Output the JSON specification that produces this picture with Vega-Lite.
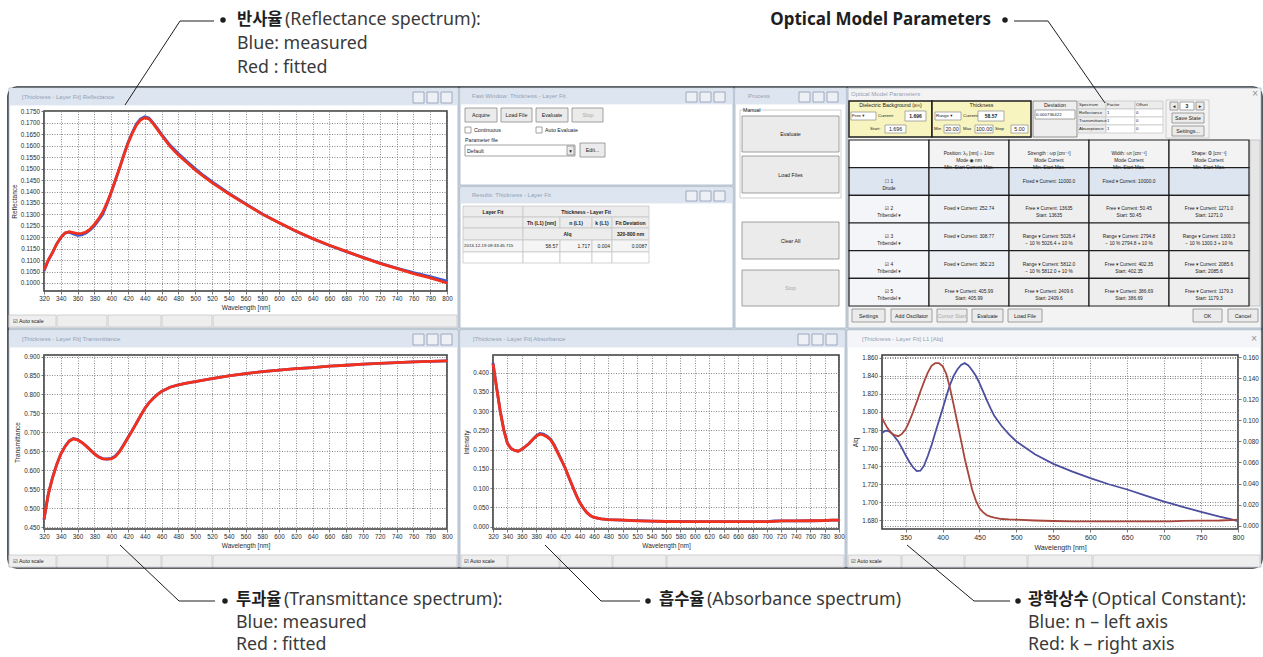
{
"$schema":"https://vega.github.io/schema/vega-lite/v6.json",
"padding":0,
"background":"white",
"spacing":0,
"bounds":"flush",
"align":"each",
"columns":7,
"config":{
 "view":{"stroke":null},
 "font":"Liberation Sans",
 "axis":{"labelFont":"Liberation Sans","labelFontSize":6.3,"labelColor":"#2a2a2a","titleFont":"Liberation Sans","titleFontSize":6.5,"titleFontWeight":"normal","titleColor":"#2a2a2a","grid":true,"gridColor":"#808080","gridDash":[1,1.5],"gridWidth":0.9,"domain":false,"tickColor":"#555555","tickSize":3,"tickWidth":0.8,"labelPadding":1.5,"titlePadding":3,"labelOverlap":false,"labelFlush":false},
 "axisY":{"grid":true,"gridColor":"#7a7a7a","gridDash":[1,1.5],"gridWidth":0.9,"gridOpacity":1}
},
"datasets":{
 "refl":[
  {"wavelength":320,"measured":0.1052,"fitted":0.1056},{"wavelength":325,"measured":0.1098,"fitted":0.1100},{"wavelength":330,"measured":0.1132,"fitted":0.1132},{"wavelength":335,"measured":0.1170,"fitted":0.1170},{"wavelength":340,"measured":0.1198,"fitted":0.1199},{"wavelength":345,"measured":0.1218,"fitted":0.1219},{"wavelength":350,"measured":0.1222,"fitted":0.1224},{"wavelength":355,"measured":0.1215,"fitted":0.1220},{"wavelength":360,"measured":0.1208,"fitted":0.1216},{"wavelength":365,"measured":0.1210,"fitted":0.1217},{"wavelength":370,"measured":0.1218,"fitted":0.1223},{"wavelength":375,"measured":0.1232,"fitted":0.1236},{"wavelength":380,"measured":0.1250,"fitted":0.1256},{"wavelength":385,"measured":0.1275,"fitted":0.1280},{"wavelength":390,"measured":0.1300,"fitted":0.1310},{"wavelength":395,"measured":0.1345,"fitted":0.1350},{"wavelength":400,"measured":0.1395,"fitted":0.1398},{"wavelength":405,"measured":0.1448,"fitted":0.1450},{"wavelength":410,"measured":0.1502,"fitted":0.1503},{"wavelength":415,"measured":0.1560,"fitted":0.1558},{"wavelength":420,"measured":0.1613,"fitted":0.1610},{"wavelength":425,"measured":0.1657,"fitted":0.1653},{"wavelength":430,"measured":0.1695,"fitted":0.1690},{"wavelength":435,"measured":0.1718,"fitted":0.1713},{"wavelength":440,"measured":0.1727,"fitted":0.1722},{"wavelength":445,"measured":0.1722,"fitted":0.1718},{"wavelength":450,"measured":0.1700,"fitted":0.1697},{"wavelength":455,"measured":0.1676,"fitted":0.1672},{"wavelength":460,"measured":0.1650,"fitted":0.1646},{"wavelength":470,"measured":0.1603,"fitted":0.1597},{"wavelength":480,"measured":0.1566,"fitted":0.1560},{"wavelength":490,"measured":0.1532,"fitted":0.1527},{"wavelength":500,"measured":0.1500,"fitted":0.1494},{"wavelength":510,"measured":0.1470,"fitted":0.1466},{"wavelength":520,"measured":0.1443,"fitted":0.1439},{"wavelength":540,"measured":0.1393,"fitted":0.1390},{"wavelength":560,"measured":0.1347,"fitted":0.1345},{"wavelength":580,"measured":0.1302,"fitted":0.1301},{"wavelength":600,"measured":0.1263,"fitted":0.1263},{"wavelength":620,"measured":0.1226,"fitted":0.1227},{"wavelength":640,"measured":0.1194,"fitted":0.1194},{"wavelength":660,"measured":0.1164,"fitted":0.1165},{"wavelength":680,"measured":0.1137,"fitted":0.1138},{"wavelength":700,"measured":0.1112,"fitted":0.1111},{"wavelength":720,"measured":0.1087,"fitted":0.1086},{"wavelength":740,"measured":0.1065,"fitted":0.1064},{"wavelength":760,"measured":0.1045,"fitted":0.1041},{"wavelength":780,"measured":0.1028,"fitted":0.1022},{"wavelength":800,"measured":0.1008,"fitted":0.1000}
 ],
 "trans":[
  {"wavelength":320,"measured":0.4700,"fitted":0.4714},{"wavelength":325,"measured":0.5360,"fitted":0.5360},{"wavelength":330,"measured":0.5800,"fitted":0.5790},{"wavelength":335,"measured":0.6150,"fitted":0.6140},{"wavelength":340,"measured":0.6430,"fitted":0.6430},{"wavelength":345,"measured":0.6630,"fitted":0.6625},{"wavelength":350,"measured":0.6780,"fitted":0.6770},{"wavelength":355,"measured":0.6840,"fitted":0.6830},{"wavelength":360,"measured":0.6810,"fitted":0.6800},{"wavelength":365,"measured":0.6740,"fitted":0.6735},{"wavelength":370,"measured":0.6650,"fitted":0.6645},{"wavelength":375,"measured":0.6545,"fitted":0.6540},{"wavelength":380,"measured":0.6440,"fitted":0.6435},{"wavelength":385,"measured":0.6355,"fitted":0.6350},{"wavelength":390,"measured":0.6310,"fitted":0.6305},{"wavelength":395,"measured":0.6300,"fitted":0.6298},{"wavelength":400,"measured":0.6315,"fitted":0.6305},{"wavelength":405,"measured":0.6380,"fitted":0.6360},{"wavelength":410,"measured":0.6505,"fitted":0.6490},{"wavelength":415,"measured":0.6680,"fitted":0.6670},{"wavelength":420,"measured":0.6870,"fitted":0.6860},{"wavelength":425,"measured":0.7050,"fitted":0.7045},{"wavelength":430,"measured":0.7240,"fitted":0.7240},{"wavelength":435,"measured":0.7440,"fitted":0.7440},{"wavelength":440,"measured":0.7630,"fitted":0.7630},{"wavelength":445,"measured":0.7780,"fitted":0.7780},{"wavelength":450,"measured":0.7900,"fitted":0.7895},{"wavelength":455,"measured":0.8000,"fitted":0.7995},{"wavelength":460,"measured":0.8080,"fitted":0.8080},{"wavelength":470,"measured":0.8190,"fitted":0.8190},{"wavelength":480,"measured":0.8250,"fitted":0.8250},{"wavelength":490,"measured":0.8300,"fitted":0.8300},{"wavelength":500,"measured":0.8340,"fitted":0.8340},{"wavelength":520,"measured":0.8420,"fitted":0.8420},{"wavelength":540,"measured":0.8490,"fitted":0.8490},{"wavelength":560,"measured":0.8550,"fitted":0.8550},{"wavelength":580,"measured":0.8600,"fitted":0.8600},{"wavelength":600,"measured":0.8640,"fitted":0.8640},{"wavelength":620,"measured":0.8680,"fitted":0.8680},{"wavelength":640,"measured":0.8710,"fitted":0.8710},{"wavelength":660,"measured":0.8745,"fitted":0.8745},{"wavelength":680,"measured":0.8770,"fitted":0.8770},{"wavelength":700,"measured":0.8800,"fitted":0.8800},{"wavelength":720,"measured":0.8820,"fitted":0.8820},{"wavelength":740,"measured":0.8840,"fitted":0.8840},{"wavelength":760,"measured":0.8860,"fitted":0.8860},{"wavelength":780,"measured":0.8870,"fitted":0.8870},{"wavelength":800,"measured":0.8885,"fitted":0.8885}
 ],
 "absb":[
  {"wavelength":320,"measured":0.425,"fitted":0.423},{"wavelength":325,"measured":0.362,"fitted":0.360},{"wavelength":330,"measured":0.300,"fitted":0.300},{"wavelength":335,"measured":0.252,"fitted":0.250},{"wavelength":340,"measured":0.217,"fitted":0.216},{"wavelength":345,"measured":0.203,"fitted":0.203},{"wavelength":350,"measured":0.198,"fitted":0.198},{"wavelength":355,"measured":0.196,"fitted":0.196},{"wavelength":360,"measured":0.201,"fitted":0.201},{"wavelength":365,"measured":0.208,"fitted":0.208},{"wavelength":370,"measured":0.216,"fitted":0.216},{"wavelength":375,"measured":0.226,"fitted":0.226},{"wavelength":380,"measured":0.236,"fitted":0.235},{"wavelength":385,"measured":0.242,"fitted":0.240},{"wavelength":390,"measured":0.240,"fitted":0.238},{"wavelength":395,"measured":0.235,"fitted":0.233},{"wavelength":400,"measured":0.227,"fitted":0.225},{"wavelength":405,"measured":0.212,"fitted":0.210},{"wavelength":410,"measured":0.193,"fitted":0.191},{"wavelength":415,"measured":0.173,"fitted":0.172},{"wavelength":420,"measured":0.153,"fitted":0.153},{"wavelength":425,"measured":0.129,"fitted":0.129},{"wavelength":430,"measured":0.106,"fitted":0.106},{"wavelength":435,"measured":0.084,"fitted":0.084},{"wavelength":440,"measured":0.064,"fitted":0.064},{"wavelength":445,"measured":0.049,"fitted":0.049},{"wavelength":450,"measured":0.037,"fitted":0.037},{"wavelength":455,"measured":0.029,"fitted":0.029},{"wavelength":460,"measured":0.024,"fitted":0.024},{"wavelength":470,"measured":0.020,"fitted":0.020},{"wavelength":480,"measured":0.0185,"fitted":0.0185},{"wavelength":500,"measured":0.017,"fitted":0.017},{"wavelength":520,"measured":0.0155,"fitted":0.0153},{"wavelength":540,"measured":0.0145,"fitted":0.0143},{"wavelength":560,"measured":0.0138,"fitted":0.0135},{"wavelength":580,"measured":0.0135,"fitted":0.0133},{"wavelength":600,"measured":0.0133,"fitted":0.0132},{"wavelength":640,"measured":0.0132,"fitted":0.0130},{"wavelength":680,"measured":0.0132,"fitted":0.0130},{"wavelength":700,"measured":0.0133,"fitted":0.0131},{"wavelength":710,"measured":0.0148,"fitted":0.0140},{"wavelength":720,"measured":0.0152,"fitted":0.0150},{"wavelength":740,"measured":0.0153,"fitted":0.0152},{"wavelength":760,"measured":0.0154,"fitted":0.0154},{"wavelength":780,"measured":0.0158,"fitted":0.0160},{"wavelength":790,"measured":0.0170,"fitted":0.0168},{"wavelength":800,"measured":0.0172,"fitted":0.0170}
 ],
 "optc":[
  {"wavelength":318,"n":1.7768,"k":0.1023},{"wavelength":322,"n":1.7790,"k":0.0970},{"wavelength":325,"n":1.7794,"k":0.0932},{"wavelength":330,"n":1.7775,"k":0.0883},{"wavelength":335,"n":1.7725,"k":0.0860},{"wavelength":340,"n":1.7673,"k":0.0850},{"wavelength":345,"n":1.7600,"k":0.0872},{"wavelength":350,"n":1.7521,"k":0.0916},{"wavelength":355,"n":1.7450,"k":0.0990},{"wavelength":360,"n":1.7388,"k":0.1079},{"wavelength":365,"n":1.7345,"k":0.1175},{"wavelength":370,"n":1.7350,"k":0.1275},{"wavelength":375,"n":1.7407,"k":0.1370},{"wavelength":380,"n":1.7513,"k":0.1455},{"wavelength":385,"n":1.7630,"k":0.1520},{"wavelength":390,"n":1.7768,"k":0.1545},{"wavelength":395,"n":1.7900,"k":0.1545},{"wavelength":400,"n":1.8033,"k":0.1518},{"wavelength":405,"n":1.8170,"k":0.1445},{"wavelength":410,"n":1.8299,"k":0.1310},{"wavelength":415,"n":1.8400,"k":0.1150},{"wavelength":420,"n":1.8470,"k":0.0981},{"wavelength":425,"n":1.8520,"k":0.0810},{"wavelength":430,"n":1.8540,"k":0.0638},{"wavelength":435,"n":1.8515,"k":0.0490},{"wavelength":440,"n":1.8462,"k":0.0343},{"wavelength":445,"n":1.8400,"k":0.0240},{"wavelength":450,"n":1.8318,"k":0.0164},{"wavelength":455,"n":1.8225,"k":0.0125},{"wavelength":460,"n":1.8128,"k":0.0098},{"wavelength":465,"n":1.8040,"k":0.0085},{"wavelength":470,"n":1.7957,"k":0.0075},{"wavelength":480,"n":1.7844,"k":0.0062},{"wavelength":490,"n":1.7752,"k":0.0058},{"wavelength":500,"n":1.7673,"k":0.0056},{"wavelength":525,"n":1.7532,"k":0.0048},{"wavelength":550,"n":1.7426,"k":0.0043},{"wavelength":575,"n":1.7342,"k":0.0040},{"wavelength":600,"n":1.7267,"k":0.0039},{"wavelength":625,"n":1.7200,"k":0.0039},{"wavelength":650,"n":1.7142,"k":0.0039},{"wavelength":675,"n":1.7075,"k":0.0039},{"wavelength":700,"n":1.7009,"k":0.0039},{"wavelength":710,"n":1.6985,"k":0.0040},{"wavelength":725,"n":1.6950,"k":0.0045},{"wavelength":750,"n":1.6895,"k":0.0046},{"wavelength":775,"n":1.6843,"k":0.0048},{"wavelength":790,"n":1.6815,"k":0.0052},{"wavelength":800,"n":1.6792,"k":0.0056}
 ],
 "optcells":[
  {"row":"h","column":"osc","state":"blank","label":""},
  {"row":"h","column":"pos","state":"header","label":"Position: λ₀ [nm]      ○ 1/cm\nMode                   ◉ nm\nMin.     Start   Current  Max."},
  {"row":"h","column":"str","state":"header","label":"Strength : ωp [cm⁻¹]\nMode              Current\nMin.     Start      Max."},
  {"row":"h","column":"wid","state":"header","label":"Width: ωτ [cm⁻¹]\nMode              Current\nMin.     Start      Max."},
  {"row":"h","column":"shp","state":"header","label":"Shape: Φ [cm⁻¹]\nMode              Current\nMin.     Start      Max."},
  {"row":"1","column":"osc","state":"disabled","label":"☐ 1\nDrude"},
  {"row":"1","column":"pos","state":"disabled","label":""},
  {"row":"1","column":"str","state":"disabled","label":"Fixed ▾  Current: 11000.0"},
  {"row":"1","column":"wid","state":"disabled","label":"Fixed ▾  Current: 10000.0"},
  {"row":"1","column":"shp","state":"disabled","label":""},
  {"row":"2","column":"osc","state":"label","label":"☑ 2\nTribendel ▾"},
  {"row":"2","column":"pos","state":"fixed","label":"Fixed ▾  Current: 252.74"},
  {"row":"2","column":"str","state":"free","label":"Free ▾  Current: 13635\nStart: 13635"},
  {"row":"2","column":"wid","state":"free","label":"Free ▾  Current: 50.45\nStart: 50.45"},
  {"row":"2","column":"shp","state":"free","label":"Free ▾  Current: 1271.0\nStart: 1271.0"},
  {"row":"3","column":"osc","state":"label","label":"☑ 3\nTribendel ▾"},
  {"row":"3","column":"pos","state":"fixed","label":"Fixed ▾  Current: 308.77"},
  {"row":"3","column":"str","state":"free","label":"Range ▾  Current: 5026.4\n− 10 % 5026.4 + 10 %"},
  {"row":"3","column":"wid","state":"free","label":"Range ▾  Current: 2794.8\n− 10 % 2794.8 + 10 %"},
  {"row":"3","column":"shp","state":"free","label":"Range ▾  Current: 1300.3\n− 10 % 1300.3 + 10 %"},
  {"row":"4","column":"osc","state":"label","label":"☑ 4\nTribendel ▾"},
  {"row":"4","column":"pos","state":"fixed","label":"Fixed ▾  Current: 382.23"},
  {"row":"4","column":"str","state":"free","label":"Range ▾  Current: 5812.0\n− 10 % 5812.0 + 10 %"},
  {"row":"4","column":"wid","state":"free","label":"Free ▾  Current: 402.35\nStart: 402.35"},
  {"row":"4","column":"shp","state":"free","label":"Free ▾  Current: 2085.6\nStart: 2085.6"},
  {"row":"5","column":"osc","state":"label","label":"☑ 5\nTribendel ▾"},
  {"row":"5","column":"pos","state":"free","label":"Free ▾  Current: 405.99\nStart: 405.99"},
  {"row":"5","column":"str","state":"free","label":"Free ▾  Current: 2409.6\nStart: 2409.6"},
  {"row":"5","column":"wid","state":"free","label":"Free ▾  Current: 386.69\nStart: 386.69"},
  {"row":"5","column":"shp","state":"free","label":"Free ▾  Current: 1179.3\nStart: 1179.3"}
 ],
 "rects":[
  {"kind":"frame","x":8,"y":87,"x2":1262,"y2":568},
  {"kind":"win","x":9,"y":88,"x2":458,"y2":328},
  {"kind":"win","x":9,"y":330,"x2":458,"y2":567},
  {"kind":"win","x":460,"y":88,"x2":733,"y2":185},
  {"kind":"win","x":460,"y":187,"x2":733,"y2":328},
  {"kind":"win","x":735,"y":88,"x2":846,"y2":328},
  {"kind":"dlg","x":848,"y":88,"x2":1261,"y2":328},
  {"kind":"win","x":460,"y":330,"x2":845,"y2":567},
  {"kind":"win","x":847,"y":330,"x2":1261,"y2":567},
  {"kind":"tbar","x":10,"y":89,"x2":457,"y2":105},
  {"kind":"tbar","x":10,"y":331,"x2":457,"y2":347},
  {"kind":"tbar","x":461,"y":89,"x2":732,"y2":104},
  {"kind":"tbar","x":461,"y":188,"x2":732,"y2":203},
  {"kind":"tbar","x":736,"y":89,"x2":845,"y2":104},
  {"kind":"tbar","x":461,"y":331,"x2":844,"y2":347},
  {"kind":"tbar2","x":848,"y":331,"x2":1260,"y2":347},
  {"kind":"ctrl","x":413,"y":92,"x2":424,"y2":103},{"kind":"ctrl","x":427,"y":92,"x2":438,"y2":103},{"kind":"ctrl","x":441,"y":92,"x2":452,"y2":103},
  {"kind":"ctrl","x":413,"y":334,"x2":424,"y2":345},{"kind":"ctrl","x":427,"y":334,"x2":438,"y2":345},{"kind":"ctrl","x":441,"y":334,"x2":452,"y2":345},
  {"kind":"ctrl","x":686,"y":92,"x2":697,"y2":102},{"kind":"ctrl","x":700,"y":92,"x2":711,"y2":102},{"kind":"ctrl","x":714,"y":92,"x2":725,"y2":102},
  {"kind":"ctrl","x":686,"y":191,"x2":697,"y2":201},{"kind":"ctrl","x":700,"y":191,"x2":711,"y2":201},{"kind":"ctrl","x":714,"y":191,"x2":725,"y2":201},
  {"kind":"ctrl","x":799,"y":92,"x2":810,"y2":102},{"kind":"ctrl","x":813,"y":92,"x2":824,"y2":102},{"kind":"ctrl","x":827,"y":92,"x2":838,"y2":102},
  {"kind":"ctrl","x":798,"y":334,"x2":809,"y2":345},{"kind":"ctrl","x":812,"y":334,"x2":823,"y2":345},{"kind":"ctrl","x":826,"y":334,"x2":837,"y2":345},
  {"kind":"sbar","x":9,"y":315,"x2":56,"y2":327},{"kind":"sbar","x":57,"y":315,"x2":107,"y2":327},{"kind":"sbar","x":108,"y":315,"x2":161,"y2":327},{"kind":"sbar","x":162,"y":315,"x2":212,"y2":327},{"kind":"sbar","x":213,"y":315,"x2":457,"y2":327},
  {"kind":"sbar","x":9,"y":555,"x2":56,"y2":567},{"kind":"sbar","x":57,"y":555,"x2":107,"y2":567},{"kind":"sbar","x":108,"y":555,"x2":161,"y2":567},{"kind":"sbar","x":162,"y":555,"x2":212,"y2":567},{"kind":"sbar","x":213,"y":555,"x2":457,"y2":567},
  {"kind":"sbar","x":461,"y":555,"x2":507,"y2":567},{"kind":"sbar","x":508,"y":555,"x2":559,"y2":567},{"kind":"sbar","x":560,"y":555,"x2":612,"y2":567},{"kind":"sbar","x":613,"y":555,"x2":666,"y2":567},{"kind":"sbar","x":667,"y":555,"x2":844,"y2":567},
  {"kind":"sbar","x":848,"y":555,"x2":901,"y2":567},{"kind":"sbar","x":902,"y":555,"x2":964,"y2":567},{"kind":"sbar","x":965,"y":555,"x2":1027,"y2":567},{"kind":"sbar","x":1028,"y":555,"x2":1092,"y2":567},{"kind":"sbar","x":1093,"y":555,"x2":1260,"y2":567},
  {"kind":"btn","x":465,"y":108,"x2":497,"y2":122},{"kind":"btn","x":501,"y":108,"x2":532,"y2":122},{"kind":"btn","x":536,"y":108,"x2":568,"y2":122},{"kind":"btn","x":572,"y":108,"x2":603,"y2":122},
  {"kind":"fld","x":465,"y":127,"x2":471,"y2":133},{"kind":"fld","x":536,"y":127,"x2":542,"y2":133},
  {"kind":"fld","x":465,"y":145,"x2":575,"y2":156},
  {"kind":"btn","x":567,"y":146,"x2":574,"y2":155},
  {"kind":"btn","x":580,"y":143,"x2":605,"y2":157},
  {"kind":"hdr","x":463,"y":206,"x2":523,"y2":217},{"kind":"hdr","x":523,"y":206,"x2":649,"y2":217},
  {"kind":"hdr","x":463,"y":217,"x2":523,"y2":228},{"kind":"hdr","x":523,"y":217,"x2":560,"y2":228},{"kind":"hdr","x":560,"y":217,"x2":592,"y2":228},{"kind":"hdr","x":592,"y":217,"x2":612,"y2":228},{"kind":"hdr","x":612,"y":217,"x2":649,"y2":228},
  {"kind":"hdr","x":463,"y":228,"x2":523,"y2":240},{"kind":"hdr","x":523,"y":228,"x2":612,"y2":240},{"kind":"hdr","x":612,"y":228,"x2":649,"y2":240},
  {"kind":"cellg","x":463,"y":240,"x2":523,"y2":252},{"kind":"cellg","x":523,"y":240,"x2":560,"y2":252},{"kind":"cellg","x":560,"y":240,"x2":592,"y2":252},{"kind":"cellg","x":592,"y":240,"x2":612,"y2":252},{"kind":"cellg","x":612,"y":240,"x2":649,"y2":252},
  {"kind":"cell","x":463,"y":252,"x2":523,"y2":263},{"kind":"cell","x":523,"y":252,"x2":560,"y2":263},{"kind":"cell","x":560,"y":252,"x2":592,"y2":263},{"kind":"cell","x":592,"y":252,"x2":612,"y2":263},{"kind":"cell","x":612,"y":252,"x2":649,"y2":263},
  {"kind":"grp","x":740,"y":110,"x2":841,"y2":198},
  {"kind":"btn","x":742,"y":116,"x2":839,"y2":152},{"kind":"btn","x":742,"y":156,"x2":839,"y2":193},{"kind":"btn","x":742,"y":222,"x2":839,"y2":259},{"kind":"btn","x":742,"y":270,"x2":839,"y2":306},
  {"kind":"gbox","x":1033,"y":101,"x2":1077,"y2":137},
  {"kind":"fld","x":1035,"y":110,"x2":1075,"y2":119},
  {"kind":"hdr","x":1078,"y":101,"x2":1106,"y2":109},{"kind":"hdr","x":1106,"y":101,"x2":1135,"y2":109},{"kind":"hdr","x":1135,"y":101,"x2":1163,"y2":109},
  {"kind":"hdr","x":1078,"y":109,"x2":1106,"y2":117},{"kind":"cell","x":1106,"y":109,"x2":1135,"y2":117},{"kind":"cell","x":1135,"y":109,"x2":1163,"y2":117},
  {"kind":"hdr","x":1078,"y":117,"x2":1106,"y2":125},{"kind":"cell","x":1106,"y":117,"x2":1135,"y2":125},{"kind":"cell","x":1135,"y":117,"x2":1163,"y2":125},
  {"kind":"hdr","x":1078,"y":125,"x2":1106,"y2":133},{"kind":"cell","x":1106,"y":125,"x2":1135,"y2":133},{"kind":"cell","x":1135,"y":125,"x2":1163,"y2":133},
  {"kind":"grp","x":1166,"y":100,"x2":1209,"y2":138},
  {"kind":"btn","x":1170,"y":102,"x2":1178,"y2":110},{"kind":"fld","x":1180,"y":102,"x2":1194,"y2":110},{"kind":"btn","x":1196,"y":102,"x2":1204,"y2":110},
  {"kind":"btn","x":1172,"y":113,"x2":1204,"y2":123},{"kind":"btn","x":1172,"y":126,"x2":1204,"y2":136},
  {"kind":"scroll","x":1250,"y":140,"x2":1260,"y2":306},
  {"kind":"btn","x":852,"y":309,"x2":885,"y2":322},{"kind":"btn","x":891,"y":309,"x2":932,"y2":322},{"kind":"btn","x":937,"y":309,"x2":967,"y2":322},{"kind":"btn","x":972,"y":309,"x2":1003,"y2":322},{"kind":"btn","x":1008,"y":309,"x2":1042,"y2":322},{"kind":"btn","x":1193,"y":309,"x2":1222,"y2":322},{"kind":"btn","x":1228,"y":309,"x2":1258,"y2":322},
  {"kind":"ybox","x":849,"y":101,"x2":932,"y2":137},{"kind":"ybox","x":932,"y":101,"x2":1031,"y2":137},
  {"kind":"yfld","x":851,"y":112,"x2":876,"y2":120},{"kind":"yfld","x":905,"y":111,"x2":926,"y2":121},{"kind":"yfld","x":885,"y":125,"x2":906,"y2":133},{"kind":"yfld","x":935,"y":112,"x2":961,"y2":120},{"kind":"yfld","x":978,"y":111,"x2":1004,"y2":121},{"kind":"yfld","x":944,"y":125,"x2":960,"y2":133},{"kind":"yfld","x":975,"y":125,"x2":993,"y2":133},{"kind":"yfld","x":1011,"y":125,"x2":1028,"y2":133}
 ],
 "texts":[
  {"kind":"ab","x":237,"y":20,"text":"반사율"},
  {"kind":"an","x":285,"y":20,"text":"(Reflectance spectrum):"},
  {"kind":"an","x":237,"y":44,"text":"Blue: measured"},
  {"kind":"an","x":237,"y":68,"text":"Red : fitted"},
  {"kind":"abr","x":991,"y":20,"text":"Optical Model Parameters"},
  {"kind":"ab","x":236,"y":600,"text":"투과율"},
  {"kind":"an","x":284,"y":600,"text":"(Transmittance spectrum):"},
  {"kind":"an","x":236,"y":623,"text":"Blue: measured"},
  {"kind":"an","x":236,"y":645,"text":"Red : fitted"},
  {"kind":"ab","x":659,"y":600,"text":"흡수율"},
  {"kind":"an","x":707,"y":600,"text":"(Absorbance spectrum)"},
  {"kind":"ab","x":1028,"y":600,"text":"광학상수"},
  {"kind":"an","x":1092,"y":600,"text":"(Optical Constant):"},
  {"kind":"an","x":1028,"y":623,"text":"Blue: n – left axis"},
  {"kind":"an","x":1028,"y":645,"text":"Red: k – right axis"},
  {"kind":"wt","x":22,"y":97,"text":"[Thickness - Layer Fit] Reflectance"},
  {"kind":"wt","x":22,"y":339,"text":"[Thickness - Layer Fit] Transmittance"},
  {"kind":"wt","x":472,"y":96,"text":"Fast Window: Thickness - Layer Fit"},
  {"kind":"wt","x":472,"y":195,"text":"Results: Thickness - Layer Fit"},
  {"kind":"wt","x":748,"y":96,"text":"Process"},
  {"kind":"wt","x":851,"y":94,"text":"Optical Model Parameters"},
  {"kind":"wt","x":473,"y":339,"text":"[Thickness - Layer Fit] Absorbance"},
  {"kind":"wt","x":862,"y":339,"text":"[Thickness - Layer Fit] L1 [Alq]"},
  {"kind":"ux","x":1255,"y":94,"text":"×"},
  {"kind":"ux","x":1254,"y":339,"text":"×"},
  {"kind":"ul","x":13,"y":321,"text":"☑ Auto scale"},
  {"kind":"ul","x":13,"y":561,"text":"☑ Auto scale"},
  {"kind":"ul","x":464,"y":561,"text":"☑ Auto scale"},
  {"kind":"ul","x":851,"y":561,"text":"☑ Auto scale"},
  {"kind":"uc","x":481,"y":115,"text":"Acquire"},
  {"kind":"uc","x":516.5,"y":115,"text":"Load File"},
  {"kind":"uc","x":552,"y":115,"text":"Evaluate"},
  {"kind":"ud","x":588,"y":115,"text":"Stop"},
  {"kind":"ul","x":474,"y":130,"text":"Continuous"},
  {"kind":"ul","x":545,"y":130,"text":"Auto Evaluate"},
  {"kind":"ul","x":465,"y":140,"text":"Parameter file"},
  {"kind":"ul","x":467,"y":150.5,"text":"Default"},
  {"kind":"uc","x":570.5,"y":150.5,"text":"▾"},
  {"kind":"uc","x":592.5,"y":150,"text":"Edit..."},
  {"kind":"ub","x":493,"y":211.5,"text":"Layer Fit"},
  {"kind":"ub","x":586,"y":211.5,"text":"Thickness - Layer Fit"},
  {"kind":"ub","x":541.5,"y":222.5,"text":"Th (L1) [nm]"},
  {"kind":"ub","x":576,"y":222.5,"text":"n (L1)"},
  {"kind":"ub","x":602,"y":222.5,"text":"k (L1)"},
  {"kind":"ub","x":630.5,"y":222.5,"text":"Fit Deviation"},
  {"kind":"ub","x":567.5,"y":234,"text":"Alq"},
  {"kind":"ub","x":630.5,"y":234,"text":"320-800 nm"},
  {"kind":"us","x":464,"y":246,"text":"2013-12-19 09:33:45.715"},
  {"kind":"ur","x":558,"y":246,"text":"58.57"},
  {"kind":"ur","x":590,"y":246,"text":"1.717"},
  {"kind":"ur","x":610,"y":246,"text":"0.004"},
  {"kind":"ur","x":647,"y":246,"text":"0.0087"},
  {"kind":"ul","x":743,"y":110,"text":"Manual"},
  {"kind":"uc","x":790.5,"y":134,"text":"Evaluate"},
  {"kind":"uc","x":790.5,"y":174.5,"text":"Load Files"},
  {"kind":"uc","x":790.5,"y":240.5,"text":"Clear All"},
  {"kind":"ud","x":790.5,"y":288,"text":"Stop"},
  {"kind":"uc","x":890.5,"y":105,"text":"Dielectric Background (ε∞)"},
  {"kind":"us","x":852,"y":116,"text":"Free ▾"},
  {"kind":"us","x":878,"y":116,"text":"Current:"},
  {"kind":"ub","x":915.5,"y":116,"text":"1.696"},
  {"kind":"us","x":870,"y":129,"text":"Start:"},
  {"kind":"uc","x":895.5,"y":129,"text":"1.696"},
  {"kind":"uc","x":981.5,"y":105,"text":"Thickness"},
  {"kind":"us","x":936,"y":116,"text":"Range ▾"},
  {"kind":"us","x":963,"y":116,"text":"Current"},
  {"kind":"ub","x":991,"y":116,"text":"58.57"},
  {"kind":"us","x":934,"y":129,"text":"Min"},
  {"kind":"uc","x":952,"y":129,"text":"20.00"},
  {"kind":"us","x":963,"y":129,"text":"Max"},
  {"kind":"uc","x":984,"y":129,"text":"100.00"},
  {"kind":"us","x":995,"y":129,"text":"Step"},
  {"kind":"uc","x":1019.5,"y":129,"text":"5.00"},
  {"kind":"uc","x":1055,"y":105,"text":"Deviation"},
  {"kind":"us","x":1036,"y":114.5,"text":"0.000736422"},
  {"kind":"us","x":1079,"y":105,"text":"Spectrum"},
  {"kind":"us","x":1107,"y":105,"text":"Factor"},
  {"kind":"us","x":1136,"y":105,"text":"Offset"},
  {"kind":"us","x":1079,"y":113,"text":"Reflectance"},
  {"kind":"us","x":1107,"y":113,"text":"1"},
  {"kind":"us","x":1136,"y":113,"text":"0"},
  {"kind":"us","x":1079,"y":121,"text":"Transmittance"},
  {"kind":"us","x":1107,"y":121,"text":"1"},
  {"kind":"us","x":1136,"y":121,"text":"0"},
  {"kind":"us","x":1079,"y":129,"text":"Absorptance"},
  {"kind":"us","x":1107,"y":129,"text":"1"},
  {"kind":"us","x":1136,"y":129,"text":"0"},
  {"kind":"uc","x":1174,"y":106,"text":"◂"},
  {"kind":"ub","x":1187,"y":106,"text":"3"},
  {"kind":"uc","x":1200,"y":106,"text":"▸"},
  {"kind":"uc","x":1188,"y":118,"text":"Save State"},
  {"kind":"uc","x":1188,"y":131,"text":"Settings..."},
  {"kind":"uc","x":868.5,"y":315.5,"text":"Settings"},
  {"kind":"uc","x":911.5,"y":315.5,"text":"Add Oscillator"},
  {"kind":"ud","x":952,"y":315.5,"text":"Cursor Start"},
  {"kind":"uc","x":987.5,"y":315.5,"text":"Evaluate"},
  {"kind":"uc","x":1025,"y":315.5,"text":"Load File"},
  {"kind":"uc","x":1207.5,"y":315.5,"text":"OK"},
  {"kind":"uc","x":1243,"y":315.5,"text":"Cancel"}
 ],
 "lines":[
  {"x":180,"y":21,"x2":214,"y2":21},{"x":180,"y":21,"x2":125,"y2":105},
  {"x":1014,"y":21,"x2":1048,"y2":21},{"x":1048,"y":21,"x2":1105,"y2":103},
  {"x":120,"y":545,"x2":179,"y2":601},{"x":179,"y":601,"x2":215,"y2":601},
  {"x":545,"y":545,"x2":601,"y2":601},{"x":601,"y":601,"x2":640,"y2":601},
  {"x":907,"y":545,"x2":974,"y2":601},{"x":974,"y":601,"x2":1010,"y2":601}
 ],
 "bullets":[
  {"x":223,"y":20},{"x":1005,"y":20},{"x":225,"y":601},{"x":648,"y":601},{"x":1018,"y":601}
 ]
},
"concat":[
 {
  "width":44,"height":111,
  "encoding":{
   "x":{"field":"x","type":"quantitative","scale":{"domain":[0,44],"range":[0,44],"nice":false,"zero":false},"axis":null},
   "y":{"field":"y","type":"quantitative","scale":{"domain":[0,111],"range":[0,111],"nice":false,"zero":false},"axis":null}
  },
  "layer":[
   {"data":{"name":"rects"},"transform":[{"filter":"datum.kind === 'frame'"}],"mark":{"type":"rect","fill":"#cbd5e0","stroke":"#2e2e2e","strokeWidth":1.6,"cornerRadius":9},"encoding":{"x2":{"field":"x2"},"y2":{"field":"y2"}}},
   {"data":{"name":"rects"},"transform":[{"filter":"datum.kind !== 'frame' && datum.kind !== 'ybox' && datum.kind !== 'yfld'"}],"mark":{"type":"rect","strokeWidth":0.8},"encoding":{"x2":{"field":"x2"},"y2":{"field":"y2"},
     "fill":{"field":"kind","type":"nominal","legend":null,"scale":{"domain":["win","dlg","tbar","tbar2","ctrl","sbar","grp","btn","fld","hdr","cell","cellg","gbox","scroll"],"range":["#ffffff","#f3f3f3","#dce5f0","#f3f5f8","#edf1f6","#eeeeee","rgba(0,0,0,0)","#ebebeb","#ffffff","#ececec","#ffffff","#f5f5f5","#eeeeee","#e6e6e6"]}},
     "stroke":{"field":"kind","type":"nominal","legend":null,"scale":{"domain":["win","dlg","tbar","tbar2","ctrl","sbar","grp","btn","fld","hdr","cell","cellg","gbox","scroll"],"range":["#a5b3c4","#a5b3c4","#dce5f0","#f3f5f8","#8d9bb0","#c6c6c6","#c4c4c4","#8a8a8a","#8a8a8a","#c8c8c8","#c8c8c8","#c8c8c8","#7a7a7a","#bdbdbd"]}}}},
   {"data":{"name":"rects"},"transform":[{"filter":"datum.kind === 'ybox'"}],"mark":{"type":"rect","fill":"#f8f4bf","stroke":"#1e1e1e","strokeWidth":1.5},"encoding":{"x2":{"field":"x2"},"y2":{"field":"y2"}}},
   {"data":{"name":"rects"},"transform":[{"filter":"datum.kind === 'yfld'"}],"mark":{"type":"rect","fill":"#ffffff","stroke":"#8a8a8a","strokeWidth":0.7},"encoding":{"x2":{"field":"x2"},"y2":{"field":"y2"}}},
   {"data":{"name":"texts"},"transform":[{"filter":"datum.kind === 'ab'"}],"mark":{"type":"text","align":"left","baseline":"middle","font":"Noto Sans CJK KR","fontWeight":"bold","fontSize":16.5,"color":"#1e1e1e"},"encoding":{"text":{"field":"text"}}},
   {"data":{"name":"texts"},"transform":[{"filter":"datum.kind === 'abr'"}],"mark":{"type":"text","align":"right","baseline":"middle","font":"Noto Sans","fontWeight":"bold","fontSize":17,"color":"#1e1e1e"},"encoding":{"text":{"field":"text"}}},
   {"data":{"name":"texts"},"transform":[{"filter":"datum.kind === 'an'"}],"mark":{"type":"text","align":"left","baseline":"middle","font":"Noto Sans","fontSize":17.8,"color":"#3a3a3a"},"encoding":{"text":{"field":"text"}}},
   {"data":{"name":"texts"},"transform":[{"filter":"datum.kind === 'wt'"}],"mark":{"type":"text","align":"left","baseline":"middle","font":"Liberation Sans","fontSize":6,"color":"#95a1b3"},"encoding":{"text":{"field":"text"}}},
   {"data":{"name":"texts"},"transform":[{"filter":"datum.kind === 'ux'"}],"mark":{"type":"text","align":"center","baseline":"middle","font":"DejaVu Sans","fontSize":8,"color":"#8a8a8a"},"encoding":{"text":{"field":"text"}}},
   {"data":{"name":"texts"},"transform":[{"filter":"datum.kind === 'ul'"}],"mark":{"type":"text","align":"left","baseline":"middle","font":"Liberation Sans, DejaVu Sans","fontSize":5.3,"color":"#222222"},"encoding":{"text":{"field":"text"}}},
   {"data":{"name":"texts"},"transform":[{"filter":"datum.kind === 'us'"}],"mark":{"type":"text","align":"left","baseline":"middle","font":"Liberation Sans, DejaVu Sans","fontSize":4.4,"color":"#222222"},"encoding":{"text":{"field":"text"}}},
   {"data":{"name":"texts"},"transform":[{"filter":"datum.kind === 'uc'"}],"mark":{"type":"text","align":"center","baseline":"middle","font":"Liberation Sans, DejaVu Sans","fontSize":5.3,"color":"#222222"},"encoding":{"text":{"field":"text"}}},
   {"data":{"name":"texts"},"transform":[{"filter":"datum.kind === 'ud'"}],"mark":{"type":"text","align":"center","baseline":"middle","font":"Liberation Sans, DejaVu Sans","fontSize":5.3,"color":"#a9a9a9"},"encoding":{"text":{"field":"text"}}},
   {"data":{"name":"texts"},"transform":[{"filter":"datum.kind === 'ub'"}],"mark":{"type":"text","align":"center","baseline":"middle","font":"Liberation Sans, DejaVu Sans","fontWeight":"bold","fontSize":5,"color":"#222222"},"encoding":{"text":{"field":"text"}}},
   {"data":{"name":"texts"},"transform":[{"filter":"datum.kind === 'ur'"}],"mark":{"type":"text","align":"right","baseline":"middle","font":"Liberation Sans, DejaVu Sans","fontSize":5,"color":"#222222"},"encoding":{"text":{"field":"text"}}},
   {"data":{"name":"lines"},"mark":{"type":"rule","color":"#1e1e1e","strokeWidth":1},"encoding":{"x2":{"field":"x2"},"y2":{"field":"y2"}}},
   {"data":{"name":"bullets"},"mark":{"type":"circle","color":"#1e1e1e","size":30,"opacity":1},"encoding":{}}
  ]
 },
 {"width":403,"height":111,"data":{"values":[]},"mark":"point"},
 {"width":46,"height":111,"data":{"values":[]},"mark":"point"},
 {"width":346,"height":111,"data":{"values":[]},"mark":"point"},
 {"width":43,"height":111,"data":{"values":[]},"mark":"point"},
 {"width":356,"height":111,"data":{"values":[]},"mark":"point"},
 {"width":25,"height":111,"data":{"values":[]},"mark":"point"},

 {"width":44,"height":180,"data":{"values":[]},"mark":"point"},
 {
  "width":403,"height":180,
  "view":{"stroke":"#3a3a3a","strokeWidth":1.6},
  "data":{"name":"refl"},
  "encoding":{"x":{"field":"wavelength","type":"quantitative","scale":{"domain":[320,800],"nice":false,"zero":false},"axis":{"values":[320,340,360,380,400,420,440,460,480,500,520,540,560,580,600,620,640,660,680,700,720,740,760,780,800],"format":"d","title":"Wavelength [nm]"}}},
  "layer":[
   {"mark":{"type":"line","color":"#3b5bd0","strokeWidth":2.8},"encoding":{"y":{"field":"measured","type":"quantitative","scale":{"domain":[0.0965,0.1752],"nice":false,"zero":false},"axis":{"grid":true,"values":[0.1,0.105,0.11,0.115,0.12,0.125,0.13,0.135,0.14,0.145,0.15,0.155,0.16,0.165,0.17,0.175],"format":".4f","title":"Reflectance"}}}},
   {"mark":{"type":"line","color":"#f2301c","strokeWidth":2.8},"encoding":{"y":{"field":"fitted","type":"quantitative","scale":{"domain":[0.0965,0.1752],"nice":false,"zero":false},"axis":{"grid":true,"values":[0.1,0.105,0.11,0.115,0.12,0.125,0.13,0.135,0.14,0.145,0.15,0.155,0.16,0.165,0.17,0.175],"format":".4f","title":"Reflectance"}}}}
  ]
 },
 {"width":46,"height":180,"data":{"values":[]},"mark":"point"},
 {"width":346,"height":180,"data":{"values":[]},"mark":"point"},
 {"width":43,"height":180,"data":{"values":[]},"mark":"point"},
 {
  "width":356,"height":180,
  "data":{"name":"optcells"},
  "encoding":{
   "x":{"field":"column","type":"nominal","scale":{"type":"band","domain":["osc","pos","str","wid","shp"],"range":[-33,367],"paddingInner":0,"paddingOuter":0},"axis":null},
   "y":{"field":"row","type":"nominal","scale":{"type":"band","domain":["h","1","2","3","4","5"],"range":[29,195],"paddingInner":0,"paddingOuter":0},"axis":null}
  },
  "layer":[
   {"mark":{"type":"rect","stroke":"#1f1f1f","strokeWidth":1.2},"encoding":{"fill":{"field":"state","type":"nominal","legend":null,"scale":{"domain":["blank","header","disabled","label","fixed","free"],"range":["#f1f1f1","#c3cbe6","#d7d4cf","#c3cbe6","#ecebe6","#f8f4bf"]}}}},
   {"mark":{"type":"text","font":"Liberation Sans, DejaVu Sans","fontSize":4.8,"color":"#1a1a1a","lineBreak":"\n","lineHeight":7,"align":"center","baseline":"middle"},"encoding":{"text":{"field":"label"}}}
  ]
 },
 {"width":25,"height":180,"data":{"values":[]},"mark":"point"},

 {"width":44,"height":64,"data":{"values":[]},"mark":"point"},
 {"width":403,"height":64,"data":{"values":[]},"mark":"point"},
 {"width":46,"height":64,"data":{"values":[]},"mark":"point"},
 {"width":346,"height":64,"data":{"values":[]},"mark":"point"},
 {"width":43,"height":64,"data":{"values":[]},"mark":"point"},
 {"width":356,"height":64,"data":{"values":[]},"mark":"point"},
 {"width":25,"height":64,"data":{"values":[]},"mark":"point"},

 {"width":44,"height":174,"data":{"values":[]},"mark":"point"},
 {
  "width":403,"height":174,
  "view":{"stroke":"#3a3a3a","strokeWidth":1.6},
  "data":{"name":"trans"},
  "encoding":{"x":{"field":"wavelength","type":"quantitative","scale":{"domain":[320,800],"nice":false,"zero":false},"axis":{"values":[320,340,360,380,400,420,440,460,480,500,520,540,560,580,600,620,640,660,680,700,720,740,760,780,800],"format":"d","title":"Wavelength [nm]"}}},
  "layer":[
   {"mark":{"type":"line","color":"#3b5bd0","strokeWidth":2.8},"encoding":{"y":{"field":"measured","type":"quantitative","scale":{"domain":[0.4455,0.904],"nice":false,"zero":false},"axis":{"grid":true,"values":[0.45,0.5,0.55,0.6,0.65,0.7,0.75,0.8,0.85,0.9],"format":".3f","title":"Transmittance"}}}},
   {"mark":{"type":"line","color":"#f2301c","strokeWidth":2.8},"encoding":{"y":{"field":"fitted","type":"quantitative","scale":{"domain":[0.4455,0.904],"nice":false,"zero":false},"axis":{"grid":true,"values":[0.45,0.5,0.55,0.6,0.65,0.7,0.75,0.8,0.85,0.9],"format":".3f","title":"Transmittance"}}}}
  ]
 },
 {"width":46,"height":174,"data":{"values":[]},"mark":"point"},
 {
  "width":346,"height":174,
  "view":{"stroke":"#3a3a3a","strokeWidth":1.6},
  "data":{"name":"absb"},
  "encoding":{"x":{"field":"wavelength","type":"quantitative","scale":{"domain":[320,800],"nice":false,"zero":false},"axis":{"values":[320,340,360,380,400,420,440,460,480,500,520,540,560,580,600,620,640,660,680,700,720,740,760,780,800],"format":"d","title":"Wavelength [nm]"}}},
  "layer":[
   {"mark":{"type":"line","color":"#3b5bd0","strokeWidth":2.8},"encoding":{"y":{"field":"measured","type":"quantitative","scale":{"domain":[-0.006,0.4455],"nice":false,"zero":false},"axis":{"grid":true,"values":[0,0.05,0.1,0.15,0.2,0.25,0.3,0.35,0.4],"format":".3f","title":"Intensity"}}}},
   {"mark":{"type":"line","color":"#f2301c","strokeWidth":2.8},"encoding":{"y":{"field":"fitted","type":"quantitative","scale":{"domain":[-0.006,0.4455],"nice":false,"zero":false},"axis":{"grid":true,"values":[0,0.05,0.1,0.15,0.2,0.25,0.3,0.35,0.4],"format":".3f","title":"Intensity"}}}}
  ]
 },
 {"width":43,"height":174,"data":{"values":[]},"mark":"point"},
 {
  "width":356,"height":174,
  "view":{"stroke":"#3a3a3a","strokeWidth":1.6},
  "data":{"name":"optc"},
  "encoding":{"x":{"field":"wavelength","type":"quantitative","scale":{"domain":[318,800],"nice":false,"zero":false},"axis":{"values":[350,400,450,500,550,600,650,700,750,800],"format":"d","title":"Wavelength [nm]","labelFontSize":7,"titleFontSize":7}}},
  "layer":[
   {"mark":{"type":"line","color":"#4b4f9e","strokeWidth":1.8},"encoding":{"y":{"field":"n","type":"quantitative","scale":{"domain":[1.6705,1.863],"nice":false,"zero":false},"axis":{"grid":true,"values":[1.68,1.7,1.72,1.74,1.76,1.78,1.8,1.82,1.84,1.86],"format":".3f","title":"Alq"}}}},
   {"mark":{"type":"line","color":"#a8463c","strokeWidth":1.8},"encoding":{"y":{"field":"k","type":"quantitative","scale":{"domain":[-0.0033,0.1623],"nice":false,"zero":false},"axis":{"grid":true,"orient":"right","values":[0,0.02,0.04,0.06,0.08,0.1,0.12,0.14,0.16],"format":".3f","title":null}}}}
  ],
  "resolve":{"scale":{"y":"independent"}}
 },
 {"width":25,"height":174,"data":{"values":[]},"mark":"point"},

 {"width":44,"height":128,"data":{"values":[]},"mark":"point"},
 {"width":403,"height":128,"data":{"values":[]},"mark":"point"},
 {"width":46,"height":128,"data":{"values":[]},"mark":"point"},
 {"width":346,"height":128,"data":{"values":[]},"mark":"point"},
 {"width":43,"height":128,"data":{"values":[]},"mark":"point"},
 {"width":356,"height":128,"data":{"values":[]},"mark":"point"},
 {"width":25,"height":128,"data":{"values":[]},"mark":"point"}
]
}
